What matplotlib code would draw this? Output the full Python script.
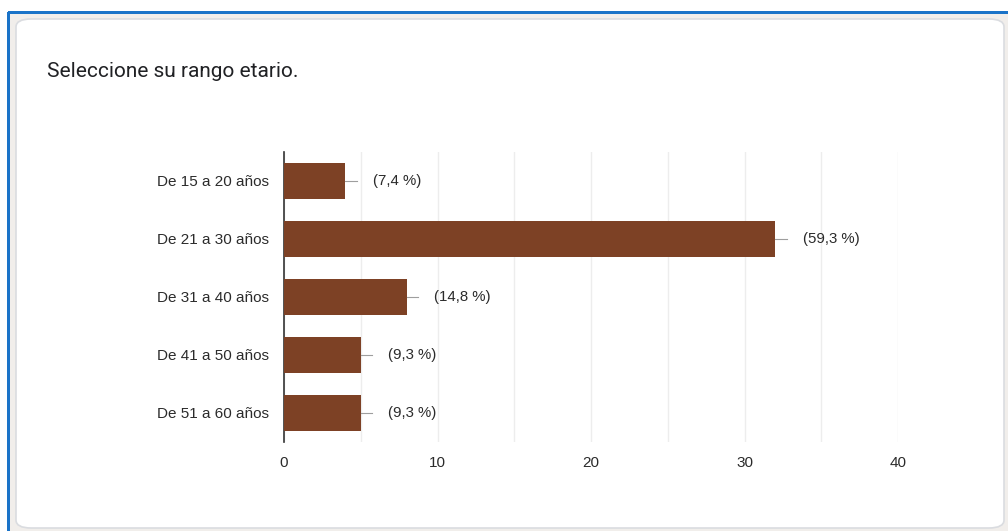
import matplotlib.pyplot as plt
from matplotlib.patches import FancyBboxPatch, Rectangle

# Respuestas por rango de edad
rangos = ['De 15 a 20 años', 'De 21 a 30 años', 'De 31 a 40 años',
          'De 41 a 50 años', 'De 51 a 60 años']
respuestas = [4, 32, 8, 5, 5]
porcentajes = ['(7,4 %)', '(59,3 %)', '(14,8 %)', '(9,3 %)', '(9,3 %)']

W, H = 1008, 531
fig = plt.figure(figsize=(W / 100, H / 100), dpi=100)
fig.patch.set_facecolor('white')

# marco exterior y tarjeta blanca
fig.patches.append(Rectangle((8 / W, 0), 1 - 8 / W, 1 - 12 / H, transform=fig.transFigure,
                             facecolor='#f1eeeb', edgecolor='none', zorder=0))
fig.patches.append(Rectangle((8 / W, 1 - 14 / H), 1 - 8 / W, 2.5 / H, transform=fig.transFigure,
                             facecolor='#1a73c8', edgecolor='none', zorder=1))
fig.patches.append(Rectangle((7 / W, 0), 2.5 / W, 1 - 12 / H, transform=fig.transFigure,
                             facecolor='#1a73c8', edgecolor='none', zorder=1))
fig.patches.append(FancyBboxPatch((16 / W, 3 / H), (1004 - 16) / W, (512 - 3) / H,
                                  boxstyle='round,pad=0,rounding_size=0.015',
                                  transform=fig.transFigure, facecolor='white',
                                  edgecolor='#dadce0', linewidth=1.2, zorder=2))

fig.text(47 / W, 1 - 71 / H, 'Seleccione su rango etario.', fontsize=15,
         family='Roboto', color='#202124', va='center', ha='left')

ax = fig.add_axes([284 / W, 1 - 442 / H, (898 - 284) / W, (442 - 152) / H])
ax.set_facecolor('none')
ax.set_zorder(3)

y = list(range(len(rangos)))
ax.barh(y, respuestas, height=0.62, color='#7d4125', zorder=3)
for yi, v, p in zip(y, respuestas, porcentajes):
    ax.plot([v, v + 0.75], [yi, yi], color='#9e9e9e', lw=0.8, zorder=3)
    ax.text(v + 1.8, yi, p, va='center', ha='left', fontsize=10.8,
            family='Liberation Sans', color='#2b2b2b')

ax.set_xlim(0, 40)
ax.set_ylim(len(rangos) - 0.5, -0.5)
ax.set_xticks([0, 10, 20, 30, 40])
ax.set_xticks([5, 15, 25, 35], minor=True)
ax.set_yticks(y)
ax.set_yticklabels(rangos)
ax.grid(axis='x', which='both', color='#ededed', lw=1, zorder=0)
ax.tick_params(length=0, which='both', labelsize=11, labelcolor='#2b2b2b')
ax.tick_params(axis='x', pad=10)
ax.tick_params(axis='y', pad=11)
for lab in ax.get_xticklabels() + ax.get_yticklabels():
    lab.set_family('Liberation Sans')
for s in ['top', 'right', 'bottom']:
    ax.spines[s].set_visible(False)
ax.spines['left'].set_color('#333333')
ax.spines['left'].set_linewidth(1.2)

fig.savefig('out.png', dpi=100)
